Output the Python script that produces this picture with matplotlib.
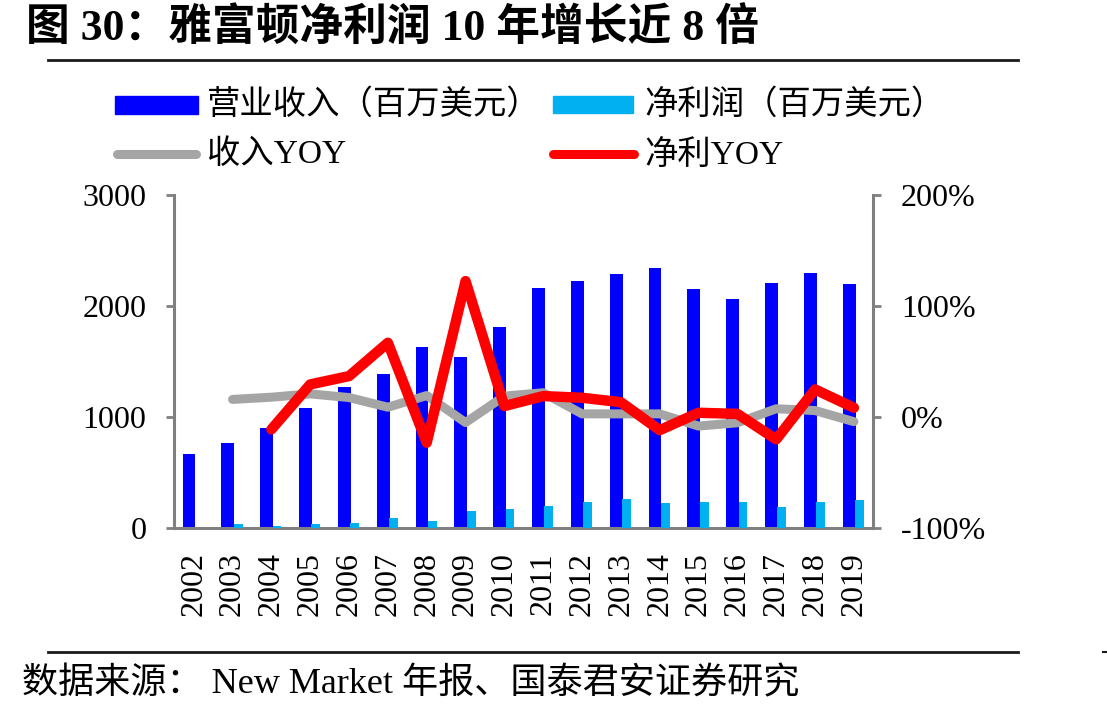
import matplotlib
matplotlib.use("Agg")
import matplotlib.pyplot as plt
import numpy as np
from matplotlib.patches import Rectangle
from matplotlib.lines import Line2D
from matplotlib.ticker import FuncFormatter

plt.rcParams['font.family'] = ['Liberation Serif', 'Noto Sans CJK SC']

years = ['2002', '2003', '2004', '2005', '2006', '2007', '2008', '2009', '2010',
         '2011', '2012', '2013', '2014', '2015', '2016', '2017', '2018', '2019']
revenue = [669, 768, 903, 1083, 1272, 1389, 1632, 1542, 1812,
           2163, 2226, 2289, 2343, 2154, 2064, 2208, 2298, 2199]
net_profit = [0, 35, 25, 35, 50, 90, 70, 155, 175,
              200, 235, 260, 228, 233, 235, 190, 233, 252]
revenue_yoy = [np.nan, 0.16, 0.18, 0.21, 0.177, 0.09, 0.195, -0.048, 0.19,
               0.22, 0.03, 0.03, 0.03, -0.08, -0.05, 0.076, 0.06, -0.04]
profit_yoy = [np.nan, np.nan, -0.11, 0.295, 0.37, 0.67, -0.23, 1.225, 0.10,
              0.19, 0.175, 0.135, -0.117, 0.04, 0.03, -0.20, 0.25, 0.085]

left_ticks = [0, 1000, 2000, 3000]
right_ticks = [-1.0, 0.0, 1.0, 2.0]

C_REV = '#0000FF'
C_NP = '#00B0F0'
C_RY = '#A5A5A5'
C_PY = '#FF0000'
C_AX = '#808080'

W, H = 1107, 719
fig = plt.figure(figsize=(W / 100, H / 100), dpi=100)

def fx(px):
    return px / W

def fy(py):
    return 1 - py / H

ax = fig.add_axes([fx(174.3), fy(528.3), fx(873.3) - fx(174.3), fy(195) - fy(528.3)])
x = np.arange(len(years))

ax.bar(x - 0.12, revenue, width=0.33, color=C_REV, zorder=2)
ax.bar(x + 0.145, net_profit, width=0.23, color=C_NP, zorder=3)
ax.set_xlim(-0.5, len(years) - 0.5)
ax.set_ylim(0, 3000)
ax.set_yticks(left_ticks)
ax.set_xticks(x)
ax.set_xticklabels(years, rotation=90, fontsize=23)
ax.tick_params(axis='x', length=0, pad=17)
ax.tick_params(axis='y', direction='out', length=6, width=2, color=C_AX,
               labelsize=23, pad=14)
for s in ['top', 'right']:
    ax.spines[s].set_visible(False)
for s in ['left', 'bottom']:
    ax.spines[s].set_color(C_AX)
    ax.spines[s].set_linewidth(2.2)

ax2 = ax.twinx()
ax2.plot(x, revenue_yoy, color=C_RY, lw=6.5, solid_capstyle='round',
         solid_joinstyle='round', zorder=4)
ax2.plot(x, profit_yoy, color=C_PY, lw=7.5, solid_capstyle='round',
         solid_joinstyle='round', zorder=5)
ax2.set_ylim(-1.0, 2.0)
ax2.set_yticks(right_ticks)
ax2.yaxis.set_major_formatter(FuncFormatter(lambda v, p: f"{v*100:.0f}%"))
ax2.tick_params(axis='y', direction='out', length=6, width=2, color=C_AX,
                labelsize=23, pad=14)
for s in ['top', 'left', 'bottom']:
    ax2.spines[s].set_visible(False)
ax2.spines['right'].set_color(C_AX)
ax2.spines['right'].set_linewidth(2.2)

# Title
fig.text(fx(26), fy(29), '图 30：雅富顿净利润 10 年增长近 8 倍', fontsize=31.5,
         fontweight='bold', va='center', ha='left')
fig.add_artist(Line2D([fx(48), fx(1018)], [fy(60), fy(60)], color='#1a1a1a',
                      lw=2.0, transform=fig.transFigure))

# Legend
fig.add_artist(Rectangle((fx(115), fy(114)), fx(198) - fx(115), fy(96) - fy(114),
                         color=C_REV, transform=fig.transFigure))
fig.text(fx(207), fy(105), '营业收入（百万美元）', fontsize=24, va='center', ha='left')
fig.add_artist(Rectangle((fx(553), fy(113)), fx(633) - fx(553), fy(96) - fy(113),
                         color=C_NP, transform=fig.transFigure))
fig.text(fx(644), fy(105), '净利润（百万美元）', fontsize=24, va='center', ha='left')
fig.add_artist(Line2D([fx(117), fx(196)], [fy(154), fy(154)], color=C_RY, lw=6.5,
                      solid_capstyle='round', transform=fig.transFigure))
fig.text(fx(207), fy(155), '收入YOY', fontsize=24, va='center', ha='left')
fig.add_artist(Line2D([fx(553), fx(634)], [fy(154), fy(154)], color=C_PY, lw=6.5,
                      solid_capstyle='round', transform=fig.transFigure))
fig.text(fx(644), fy(155), '净利YOY', fontsize=24, va='center', ha='left')

# Footer
fig.add_artist(Line2D([fx(48), fx(1018)], [fy(652), fy(652)], color='#1a1a1a',
                      lw=2.0, transform=fig.transFigure))
fig.add_artist(Line2D([fx(1103), fx(1107)], [fy(652), fy(652)], color='#1a1a1a',
                      lw=1.5, transform=fig.transFigure))
fig.text(fx(22), fy(684), '数据来源： New Market 年报、国泰君安证券研究', fontsize=26,
         va='center', ha='left')

fig.savefig('out.png', dpi=100)
